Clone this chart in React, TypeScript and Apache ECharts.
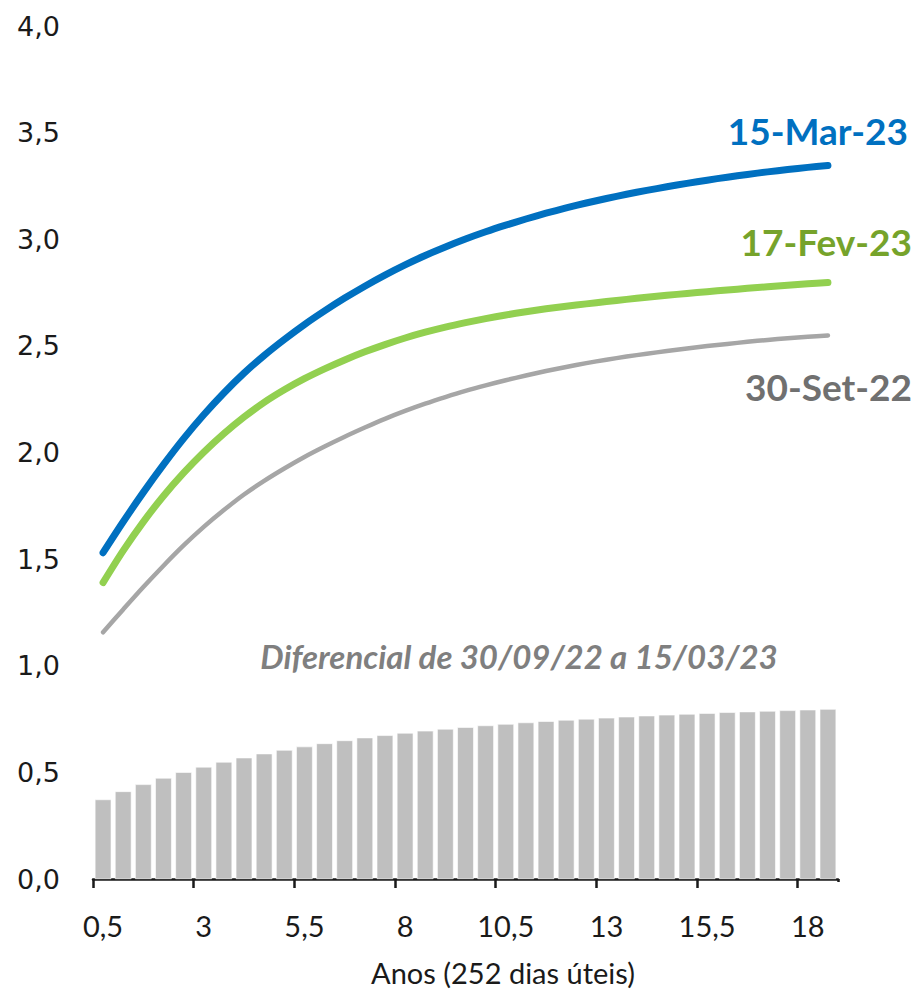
import React, { useEffect, useRef } from "react";
import * as echarts from "echarts";

// Maturities in years (0.5-year steps)
const maturities: string[] = [
  "0,5", "1", "1,5", "2", "2,5", "3", "3,5", "4", "4,5", "5",
  "5,5", "6", "6,5", "7", "7,5", "8", "8,5", "9", "9,5", "10",
  "10,5", "11", "11,5", "12", "12,5", "13", "13,5", "14", "14,5", "15",
  "15,5", "16", "16,5", "17", "17,5", "18", "18,5",
];

// Curve on 15-Mar-23
const curveMar23: number[] = [
  1.530, 1.675, 1.813, 1.943, 2.065, 2.177, 2.279, 2.372, 2.455, 2.530,
  2.600, 2.664, 2.724, 2.780, 2.832, 2.880, 2.924, 2.964, 3.001, 3.035,
  3.066, 3.095, 3.122, 3.147, 3.170, 3.191, 3.211, 3.229, 3.246, 3.262,
  3.277, 3.291, 3.304, 3.316, 3.327, 3.337, 3.346,
];

// Curve on 17-Fev-23
const curveFev23: number[] = [
  1.390, 1.540, 1.675, 1.796, 1.904, 2.001, 2.088, 2.166, 2.235, 2.294,
  2.346, 2.392, 2.434, 2.472, 2.506, 2.537, 2.564, 2.588, 2.609, 2.628,
  2.645, 2.660, 2.674, 2.686, 2.697, 2.708, 2.718, 2.728, 2.737, 2.746,
  2.754, 2.762, 2.770, 2.777, 2.784, 2.791, 2.797,
];

// Curve on 30-Set-22
const curveSet22: number[] = [
  1.157, 1.264, 1.369, 1.469, 1.564, 1.651, 1.730, 1.803, 1.867, 1.925,
  1.979, 2.028, 2.074, 2.117, 2.158, 2.195, 2.229, 2.260, 2.289, 2.315,
  2.339, 2.361, 2.382, 2.401, 2.419, 2.435, 2.450, 2.463, 2.476, 2.488,
  2.499, 2.509, 2.519, 2.528, 2.536, 2.543, 2.549,
];

// Spread between 30/09/22 and 15/03/23
const spread: number[] = [
  0.373, 0.411, 0.444, 0.474, 0.501, 0.526, 0.549, 0.569, 0.588, 0.605,
  0.621, 0.636, 0.650, 0.663, 0.674, 0.685, 0.695, 0.704, 0.712, 0.720,
  0.727, 0.734, 0.740, 0.746, 0.751, 0.756, 0.761, 0.766, 0.770, 0.774,
  0.778, 0.782, 0.785, 0.788, 0.791, 0.794, 0.797,
];

const seriesNames = ["15-Mar-23", "17-Fev-23", "30-Set-22"];
const spreadTitle = "Diferencial de 30/09/22 a 15/03/23";
const xAxisTitle = "Anos (252 dias úteis)";

const BLUE = "#0070C0";
const GREEN_LINE = "#92D050";
const GREEN_TEXT = "#76A32B";
const GRAY_LINE = "#A6A6A6";
const GRAY_TEXT = "#707070";
const AXIS = "#1a1a1a";
const SANS = "Lato, 'Open Sans', sans-serif";

// Ticks and labels every 2.5 years
const everyFifth = (i: number) => i % 5 === 0;

export default function App() {
  const ref = useRef<HTMLDivElement>(null);

  useEffect(() => {
    if (!ref.current) return;
    const chart = echarts.init(ref.current, null, { renderer: "svg" });

    const lineSeries = (name: string, data: number[], color: string, width: number) => ({
      name,
      type: "line",
      data,
      smooth: 0.3,
      symbol: "none",
      z: 3,
      lineStyle: { color, width, cap: "round", join: "round" },
    });

    chart.setOption({
      animation: false,
      backgroundColor: "#ffffff",
      grid: { left: 93, right: 79, top: 26, bottom: 110, containLabel: false },
      xAxis: {
        type: "category",
        data: maturities,
        boundaryGap: true,
        axisLine: { show: true, lineStyle: { color: AXIS, width: 2.5 } },
        axisTick: {
          show: true,
          interval: everyFifth,
          alignWithLabel: false,
          length: 9,
          lineStyle: { color: AXIS, width: 2.5 },
        },
        axisLabel: {
          interval: everyFifth,
          margin: 32,
          color: AXIS,
          fontFamily: SANS,
          fontSize: 29,
        },
        splitLine: { show: false },
      },
      yAxis: {
        type: "value",
        min: 0,
        max: 4,
        interval: 0.5,
        axisLine: { show: false },
        axisTick: { show: false },
        splitLine: { show: false },
        axisLabel: {
          margin: 33,
          color: AXIS,
          fontFamily: "'DejaVu Sans', Verdana, sans-serif",
          fontSize: 27,
          formatter: (v: number) => v.toFixed(1).replace(".", ","),
        },
      },
      series: [
        {
          name: spreadTitle,
          type: "bar",
          data: spread,
          barCategoryGap: "18%",
          z: 2,
          itemStyle: { color: "#BFBFBF", borderColor: "#ffffff", borderWidth: 0.6 },
        },
        lineSeries(seriesNames[2], curveSet22, GRAY_LINE, 4.5),
        lineSeries(seriesNames[1], curveFev23, GREEN_LINE, 7),
        lineSeries(seriesNames[0], curveMar23, BLUE, 7),
      ],
      graphic: [
        // hides the closing tick at the right end of the axis
        {
          type: "rect",
          z: 100,
          shape: { x: 835, y: 882, width: 8, height: 12 },
          style: { fill: "#ffffff" },
        },
        {
          type: "text",
          right: 9,
          top: 112,
          style: { text: seriesNames[0], fill: BLUE, font: `bold 37px ${SANS}` },
        },
        {
          type: "text",
          right: 5,
          top: 223,
          style: { text: seriesNames[1], fill: GREEN_TEXT, font: `bold 37px ${SANS}` },
        },
        {
          type: "text",
          right: 5,
          top: 368,
          style: { text: seriesNames[2], fill: GRAY_TEXT, font: `bold 37px ${SANS}` },
        },
        {
          type: "text",
          x: 519,
          y: 656,
          style: {
            text: spreadTitle,
            fill: "#7F7F7F",
            font: `italic bold 33px ${SANS}`,
            align: "center",
            verticalAlign: "middle",
          },
        },
        {
          type: "text",
          x: 503,
          y: 972,
          style: {
            text: xAxisTitle,
            fill: AXIS,
            font: `29px ${SANS}`,
            align: "center",
            verticalAlign: "middle",
          },
        },
      ],
    });

    return () => chart.dispose();
  }, []);

  return (
    <div
      ref={ref}
      style={{ position: "fixed", left: 0, top: 0, width: 917, height: 989 }}
    />
  );
}
